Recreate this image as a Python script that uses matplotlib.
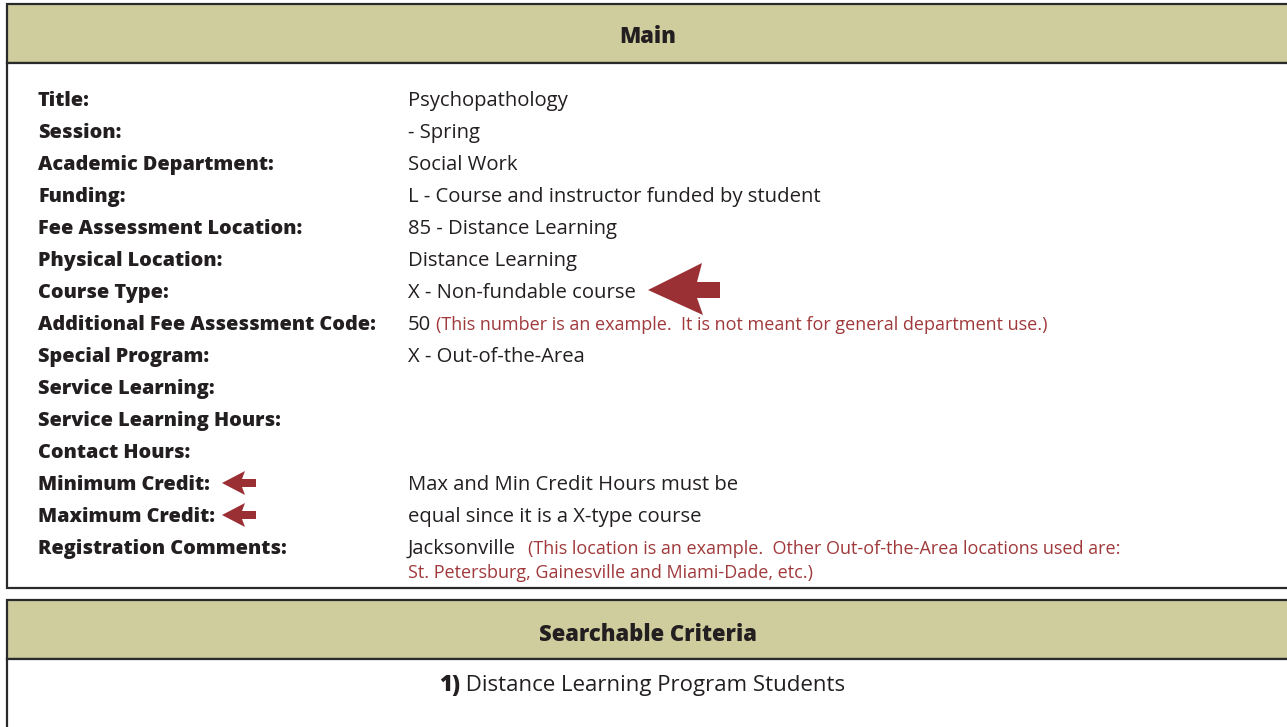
import matplotlib.pyplot as plt
from matplotlib.patches import Rectangle, Polygon

W, H = 1287, 727

labels = ["Title:", "Session:", "Academic Department:", "Funding:",
          "Fee Assessment Location:", "Physical Location:", "Course Type:",
          "Additional Fee Assessment Code:", "Special Program:",
          "Service Learning:", "Service Learning Hours:", "Contact Hours:",
          "Minimum Credit:", "Maximum Credit:", "Registration Comments:"]
values = ["Psychopathology", "- Spring", "Social Work",
          "L - Course and instructor funded by student",
          "85 - Distance Learning", "Distance Learning",
          "X - Non-fundable course", "50", "X - Out-of-the-Area",
          "", "", "", "Max and Min Credit Hours must be",
          "equal since it is a X-type course", "Jacksonville"]
notes = {7: "(This number is an example.  It is not meant for general department use.)",
         14: "(This location is an example.  Other Out-of-the-Area locations used are:"}
note_line2 = "St. Petersburg, Gainesville and Miami-Dade, etc.)"
criteria = ["Distance Learning Program Students"]

plt.rcParams['font.family'] = ['Open Sans', 'DejaVu Sans']
header_col = "#CFCD9E"
line_col = "#2a2a2a"
ink = "#231f20"
red = "#A0393B"
arrow_col = "#9B3034"
fs_lab, fs_val, fs_note, fs_head, fs_crit = 14.3, 14.6, 13.0, 15.8, 16.0
heavy = 800

fig = plt.figure(figsize=(W / 100, H / 100), dpi=100)
ax = fig.add_axes([0, 0, 1, 1])
ax.set_xlim(0, W)
ax.set_ylim(H, 0)
ax.axis("off")

# main box
ax.add_patch(Rectangle((7, 4), 1290, 59, facecolor=header_col, edgecolor=line_col, lw=1.6))
ax.add_patch(Rectangle((7, 63), 1290, 525, facecolor="white", edgecolor=line_col, lw=1.6))
ax.text(648, 43, "Main", ha="center", va="baseline", fontsize=fs_head, fontweight=heavy, color=ink)

y0, dy = 106, 32
for i, (lab, val) in enumerate(zip(labels, values)):
    y = y0 + i * dy
    ax.text(38, y, lab, ha="left", va="baseline", fontsize=fs_lab, fontweight=heavy, color=ink)
    t = ax.text(408, y, val, ha="left", va="baseline", fontsize=fs_val, color=ink)
    if i in notes:
        fig.canvas.draw()
        bb = t.get_window_extent()
        ax.text(bb.x1 + (12 if i == 14 else 5), y, notes[i], ha="left", va="baseline",
                fontsize=fs_note, color=red)
ax.text(408, y0 + 14 * dy + 24, note_line2, ha="left", va="baseline", fontsize=fs_note, color=red)

# arrows
ax.add_patch(Polygon([(648, 290), (702, 263), (697, 282), (720, 282), (720, 298),
                      (697, 298), (703, 315)], closed=True, facecolor=arrow_col, edgecolor="none"))
for yc in (y0 - 7 + 12 * dy, y0 - 7 + 13 * dy):
    ax.add_patch(Polygon([(222, yc), (245, yc - 12), (242, yc - 4), (256, yc - 4),
                          (256, yc + 4), (242, yc + 4), (245, yc + 12)],
                         closed=True, facecolor=arrow_col, edgecolor="none"))

# searchable criteria box
ax.add_patch(Rectangle((7, 600), 1290, 59, facecolor=header_col, edgecolor=line_col, lw=1.6))
ax.add_patch(Rectangle((7, 659), 1290, 100, facecolor="white", edgecolor=line_col, lw=1.6))
ax.text(648, 641, "Searchable Criteria", ha="center", va="baseline", fontsize=fs_head,
        fontweight=heavy, color=ink)
fig.canvas.draw()
for k, c in enumerate(criteria):
    yb = 691 + k * 32
    num = ax.text(0, yb, f"{k + 1})", ha="left", va="baseline", fontsize=fs_crit,
                  fontweight=heavy, color=ink)
    body = ax.text(0, yb, " " + c, ha="left", va="baseline", fontsize=fs_crit, color=ink)
    fig.canvas.draw()
    w1 = num.get_window_extent().width
    w2 = body.get_window_extent().width
    x_start = 642 - (w1 + w2) / 2
    num.set_x(x_start)
    body.set_x(x_start + w1)

fig.savefig("out.png", dpi=100)
